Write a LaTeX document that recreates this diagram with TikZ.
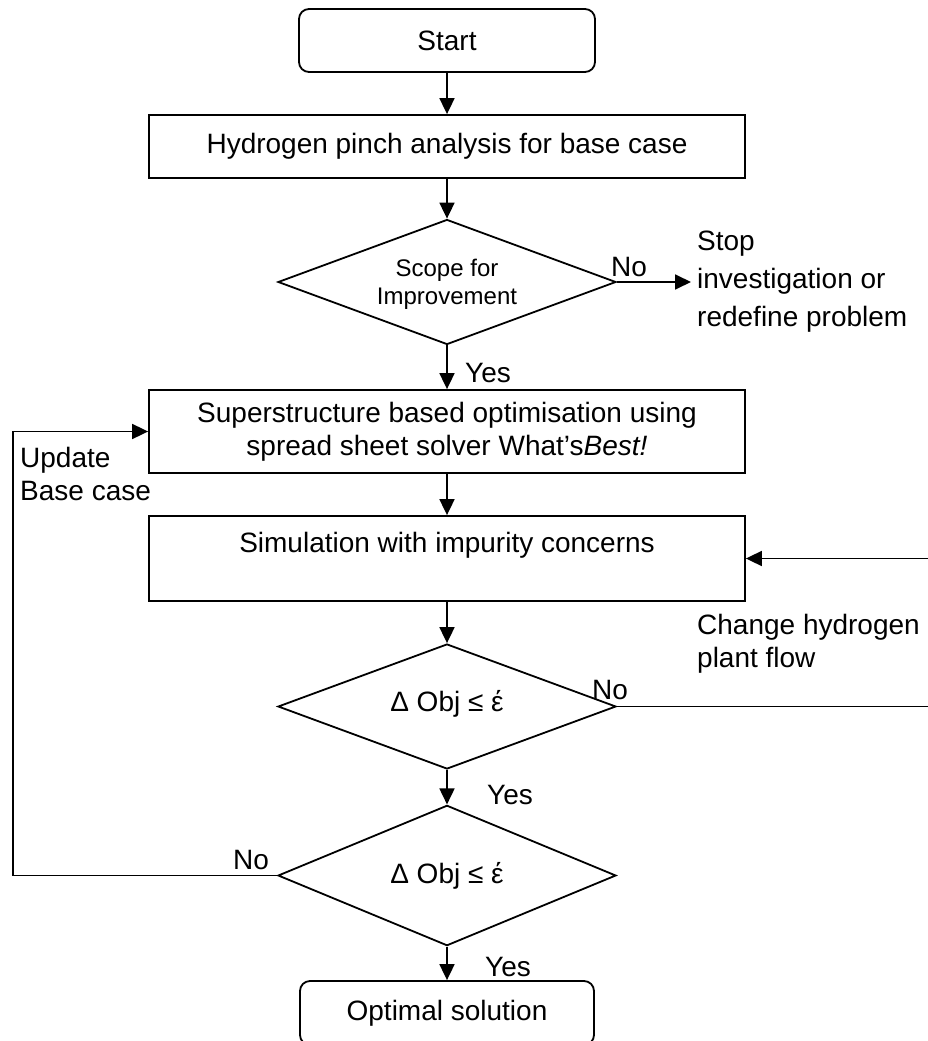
\documentclass[tikz,border=0pt]{standalone}
\usepackage{fontspec}
\setmainfont{Liberation Sans}
\usetikzlibrary{shapes.geometric,arrows.meta}
\begin{document}
\begin{tikzpicture}[x=1pt,y=-1pt,
  every node/.style={font=\fontsize{28}{33}\selectfont},
  flow/.style={line width=1.8pt, -{Triangle[length=16pt,width=15pt]}},
  procbox/.style={draw, line width=1.8pt, minimum width=596pt, inner sep=0pt, align=center},
  termbox/.style={draw, line width=1.8pt, rounded corners=10pt, minimum width=296pt, minimum height=63pt, inner sep=0pt},
  decision/.style={draw, diamond, line width=1.8pt, minimum width=338pt, minimum height=125pt, inner sep=0pt, align=center},
  note/.style={align=left, inner sep=0pt, anchor=west}]
\useasboundingbox (0,0) rectangle (928,1041);
\clip (0,0) rectangle (928,1041);

% main column
\node[termbox] (start) at (447,40.5) {Start};
\node[procbox, minimum height=63pt] (pinch) at (447,146.5) {Hydrogen pinch analysis for base case};
\node[decision] (scope) at (447,282) {};
\node[align=center, inner sep=0pt, font=\fontsize{24}{28}\selectfont] (scopetxt) at (447,284) {Scope for\\Improvement};
\node[procbox, minimum height=83pt] (super) at (447,431.5) {Superstructure based optimisation using\\spread sheet solver What’s\textit{Best!}};
\node[procbox, minimum height=85pt] (sim) at (447,558.5) {Simulation with impurity concerns\\\mbox{}};
\node[decision] (d2) at (447,706.5) {};
\node (d2txt) at (447,704) {Δ Obj ≤ έ};
\node[decision] (d3) at (447,875.5) {Δ Obj ≤ έ};
\node[termbox, minimum width=294pt, minimum height=64pt] (opt) at (447,1013) {Optimal solution};

% vertical flow
\draw[flow] (start) -- (pinch);
\draw[flow] (pinch) -- (scope);
\draw[flow] (scope) -- (super);
\draw[flow] (super) -- (sim);
\draw[flow] (sim) -- (d2);
\draw[flow] (d2) -- (d3);
\draw[flow] (d3) -- (opt);

% exit when there is no scope for improvement
\coordinate (stopend) at (691,282);
\draw[flow] (scope.east) -- (stopend);
\node[note, font=\fontsize{28}{38}\selectfont] (stop) at (697,282) {Stop\\investigation or\\redefine problem};

% loop back to the simulation
\coordinate (rightturn) at (945,706.5);
\draw[flow] (d2.east) -- (rightturn) |- (sim.east);
\node[note] (chg) at (697,644) {Change hydrogen\\plant flow};

% loop back to the optimisation
\coordinate (leftturn) at (13,875.5);
\draw[flow] (d3.west) -- (leftturn) |- (super.west);
\node[note] (upd) at (20,474) {Update\\Base case};

% branch labels
\node[note] (no1) at (611,267) {No};
\node[note] (yes1) at (465,373) {Yes};
\node[note] (no2) at (592,690) {No};
\node[note] (yes2) at (487,795) {Yes};
\node[note] (no3) at (233,860) {No};
\node[note] (yes3) at (485,967) {Yes};
\end{tikzpicture}
\end{document}
